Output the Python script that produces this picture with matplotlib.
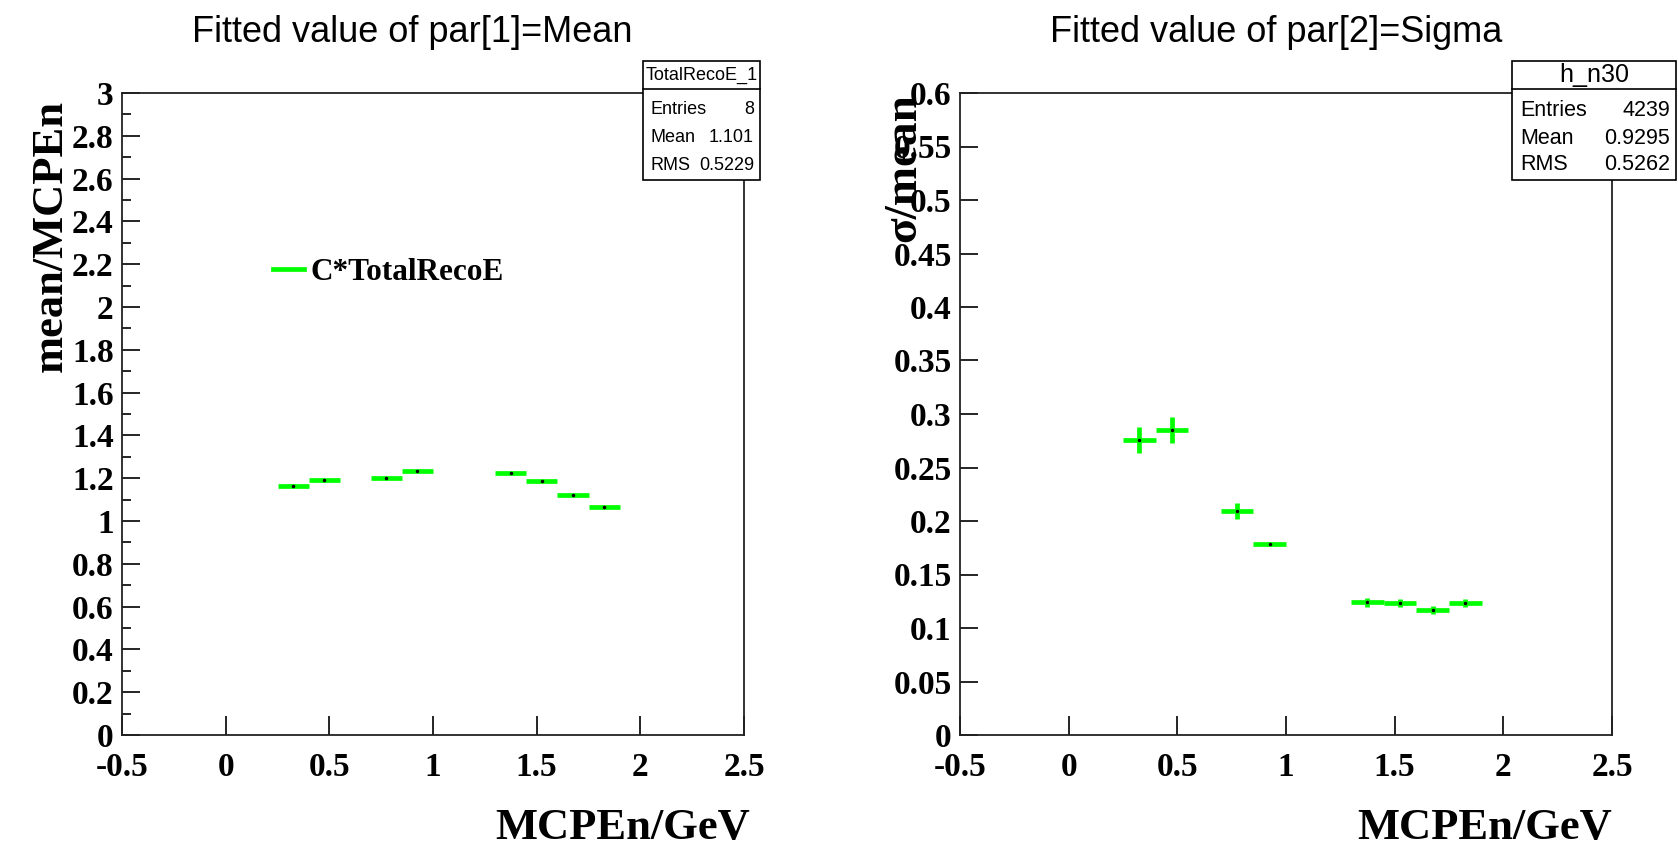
import numpy as np
import matplotlib
matplotlib.use("Agg")
import matplotlib.pyplot as plt
from matplotlib.lines import Line2D
from matplotlib.patches import Rectangle

# bin centres (GeV) and half bin width
x_centers = [0.325, 0.475, 0.775, 0.925, 1.375, 1.525, 1.675, 1.825]
x_halfwidth = [0.075] * 8

# left pad: fitted mean / MCPEn
mean_ratio = [1.165, 1.19, 1.20, 1.232, 1.222, 1.185, 1.12, 1.065]
mean_err = [0.008, 0.008, 0.006, 0.004, 0.004, 0.004, 0.004, 0.004]

# right pad: sigma / mean
sigma_ratio = [0.276, 0.285, 0.209, 0.1785, 0.124, 0.1234, 0.117, 0.1234]
sigma_err = [0.012, 0.012, 0.0075, 0.002, 0.004, 0.004, 0.004, 0.004]

# stat boxes
left_stat_name = "TotalRecoE_1"
left_stat_rows = [("Entries", "8"), ("Mean", "1.101"), ("RMS", "0.5229")]
right_stat_name = "h_n30"
right_stat_rows = [("Entries", "4239"), ("Mean", "0.9295"), ("RMS", "0.5262")]

W, H = 1678, 848
GREEN = "#00ff00"

plt.rcParams['font.family'] = ['Liberation Serif', 'DejaVu Serif']
plt.rcParams['font.weight'] = 'bold'
plt.rcParams['axes.unicode_minus'] = False

fig = plt.figure(figsize=(W / 100, H / 100), dpi=100)


def px_axes(x0, x1, y0, y1):
    # axes rectangle from pixel edges (top-left origin)
    return fig.add_axes([x0 / W, 1 - y1 / H, (x1 - x0) / W, (y1 - y0) / H])


def style_axes(ax, ymax, ystep, yminor, yfmt):
    ax.set_xlim(-0.5, 2.5)
    ax.set_ylim(0, ymax)
    ax.set_xticks(np.arange(-0.5, 2.51, 0.5))
    ax.set_xticklabels(["%g" % v for v in np.arange(-0.5, 2.51, 0.5)])
    yt = np.arange(0, ymax + 1e-9, ystep)
    ax.set_yticks(yt)
    ax.set_yticklabels([yfmt(v) for v in yt])
    if yminor:
        ax.set_yticks(np.arange(0, ymax + 1e-9, yminor), minor=True)
    ax.tick_params(axis='x', direction='in', length=14, width=1.2, pad=12,
                   labelsize=24, top=False)
    ax.tick_params(axis='y', direction='in', length=13, width=1.2, pad=6,
                   labelsize=24, right=False)
    ax.tick_params(axis='y', which='minor', direction='in', length=6.5, width=1.2)
    for s in ax.spines.values():
        s.set_linewidth(1.3)
        s.set_color("#222222")


def draw_points(ax, y, yerr):
    ax.errorbar(x_centers, y, xerr=x_halfwidth, yerr=yerr, fmt='o', ms=1.5,
                mfc='black', mec='black', ecolor=GREEN, elinewidth=3.4,
                capsize=0, zorder=3)


def stat_box(x0, x1, name, rows, name_size, row_size):
    y0, y1, ysep = 61, 180, 89
    fig.add_artist(Rectangle((x0 / W, 1 - y1 / H), (x1 - x0) / W, (y1 - y0) / H,
                             transform=fig.transFigure, facecolor='white',
                             edgecolor='black', lw=1.2, zorder=5))
    fig.add_artist(Line2D([x0 / W, x1 / W], [1 - ysep / H] * 2,
                          transform=fig.transFigure, color='black', lw=1.2, zorder=6))
    fig.text((x0 + x1) / 2 / W, 1 - 75 / H, name, ha='center', va='center',
             family='Liberation Sans', weight='normal', fontsize=name_size, zorder=7)
    for (lab, val), yc in zip(rows, [110, 138, 165]):
        fig.text((x0 + 8) / W, 1 - yc / H, lab, ha='left', va='center',
                 family='Liberation Sans', weight='normal', fontsize=row_size, zorder=7)
        fig.text((x1 - 6) / W, 1 - yc / H, val, ha='right', va='center',
                 family='Liberation Sans', weight='normal', fontsize=row_size, zorder=7)


# left pad
ax1 = px_axes(122, 744, 93, 735)
style_axes(ax1, 3, 0.2, 0.1, lambda v: "%g" % round(v, 1))
draw_points(ax1, mean_ratio, mean_err)
handle = Line2D([], [], color=GREEN, lw=3.4)
ax1.legend([handle], ["C*TotalRecoE"], loc='center left', bbox_to_anchor=(0.243, 0.72),
           frameon=False, fontsize=22.5, handlelength=1.0, handletextpad=0.2,
           borderpad=0, borderaxespad=0)

# right pad
ax2 = px_axes(960, 1612, 93, 735)
style_axes(ax2, 0.6, 0.05, None, lambda v: "%g" % round(v, 2))
draw_points(ax2, sigma_ratio, sigma_err)

# titles and axis titles
fig.text(412 / W, 1 - 32 / H, "Fitted value of par[1]=Mean", ha='center', va='center',
         family='Liberation Sans', weight='normal', fontsize=26)
fig.text(1276 / W, 1 - 32 / H, "Fitted value of par[2]=Sigma", ha='center', va='center',
         family='Liberation Sans', weight='normal', fontsize=26)
fig.text(750 / W, 1 - 828 / H, "MCPEn/GeV", ha='right', va='center', fontsize=32)
fig.text(1612 / W, 1 - 828 / H, "MCPEn/GeV", ha='right', va='center', fontsize=32)
fig.text(51 / W, 1 - 100 / H, "mean/MCPEn", ha='center', va='top', rotation=90, fontsize=32)
fig.text(904 / W, 1 - 93 / H, "σ/mean", ha='center', va='top', rotation=90, fontsize=34)

stat_box(643, 760, left_stat_name, left_stat_rows, 13, 13)
stat_box(1512, 1676, right_stat_name, right_stat_rows, 18, 15.5)

fig.savefig("out.png", dpi=100, facecolor='white')
